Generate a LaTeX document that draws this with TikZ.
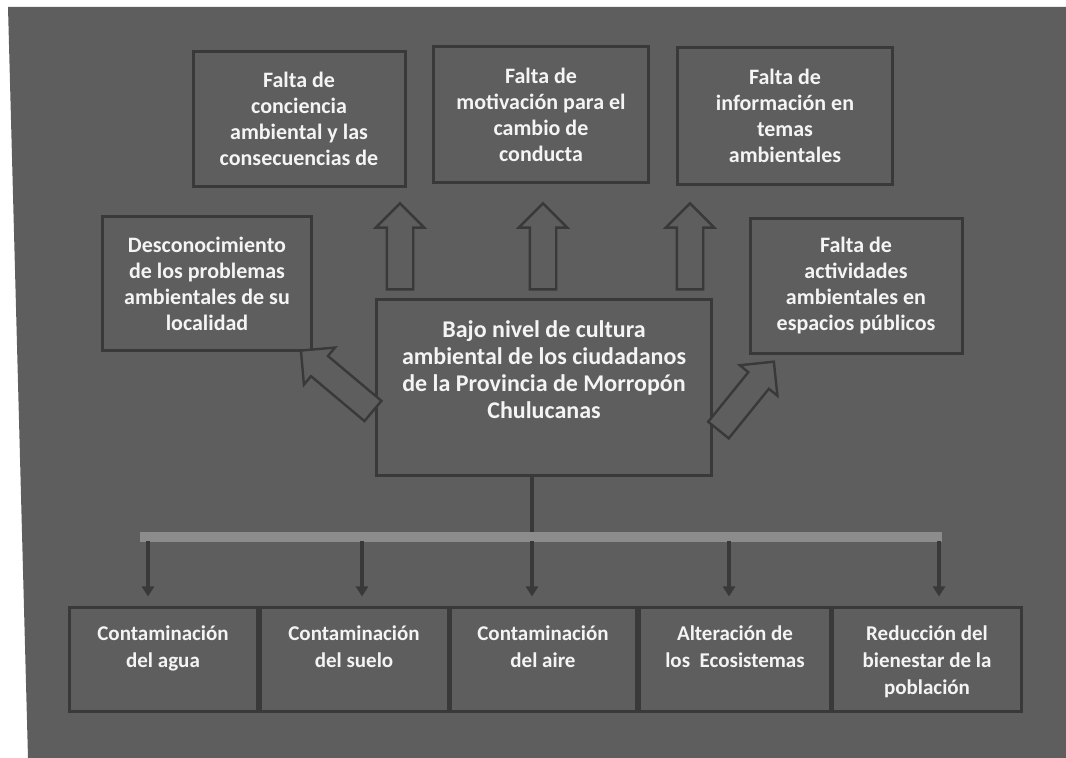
\documentclass[tikz,border=0pt]{standalone}
\usepackage{fontspec}
\setmainfont{Carlito}
\usetikzlibrary{shapes.arrows,arrows.meta}
\definecolor{bg}{HTML}{5E5E5E}
\definecolor{edgec}{HTML}{393939}
\definecolor{barc}{HTML}{8C8C8C}
\definecolor{txt}{HTML}{F4F4F4}
\begin{document}
\begin{tikzpicture}[x=0.5pt,y=-0.5pt,
  box/.style={draw=edgec,line width=1.5pt,fill=bg,text=txt,
    font=\bfseries\fontsize{11}{13}\selectfont,align=center,inner sep=0pt},
  btxt/.style={text=txt,font=\bfseries\fontsize{10.5}{13.5}\selectfont,align=center,inner sep=0pt},
  blockarrow/.style={single arrow,draw=edgec,line width=1.2pt,fill=bg,inner xsep=0pt,inner ysep=6pt,
    minimum width=23pt,single arrow head extend=5.5pt,single arrow head indent=0pt,
    single arrow tip angle=90},
  downarrow/.style={draw=edgec,line width=1.6pt,-{Triangle[width=6pt,length=5pt]},shorten >=5pt}
]
\useasboundingbox (0,0) rectangle (1066,758);
\fill[white] (0,0) rectangle (1066,758);
\fill[bg] (8,7) -- (1066,7) -- (1066,758) -- (28,758) -- cycle;

% top boxes
\node[box,minimum width=106pt,minimum height=67.5pt] (t1) at (299,119)
  {Falta de\\conciencia\\ambiental y las\\consecuencias de};
\node[box,minimum width=107.5pt,minimum height=68pt] (t2) at (541,115)
  {Falta de\\motivación para el\\cambio de\\conducta};
\node[box,minimum width=107.5pt,minimum height=68.5pt] (t3) at (785,116)
  {Falta de\\información en\\temas\\ambientales};
% side boxes
\node[box,minimum width=104.5pt,minimum height=67pt] (L) at (207,284)
  {Desconocimiento\\de los problemas\\ambientales de su\\localidad};
\node[box,minimum width=106pt,minimum height=67.5pt] (R) at (856,286)
  {Falta de\\actividades\\ambientales en\\espacios públicos};
% center box
\node[box,minimum width=167.5pt,minimum height=88pt] (C) at (544,388) {};
\node[btxt,font=\bfseries\fontsize{12}{13.5}\selectfont] (Ct) at ([yshift=9pt]C.center)
  {Bajo nivel de cultura\\ambiental de los ciudadanos\\de la Provincia de Morropón\\Chulucanas};

% block arrows
\node[blockarrow,rotate=90,minimum height=43pt] (a1) at (400,253) {};
\node[blockarrow,rotate=90,minimum height=43pt] (a2) at (543,253) {};
\node[blockarrow,rotate=90,minimum height=43pt] (a3) at (690,253) {};
\node[blockarrow,rotate=140,minimum height=47pt] (a4) at (342,385) {};
\node[blockarrow,rotate=51,minimum height=44pt] (a5) at (742,401) {};

% bottom boxes
\node[box,minimum width=94pt,minimum height=52pt] (b1) at (163,660) {};
\node[box,minimum width=94pt,minimum height=52pt] (b2) at (354,660) {};
\node[box,minimum width=93pt,minimum height=52pt] (b3) at (543,660) {};
\node[box,minimum width=95.5pt,minimum height=52pt] (b4) at (735,660) {};
\node[box,minimum width=94.5pt,minimum height=52pt] (b5) at (927,660) {};
\node[btxt,anchor=north] (b1t) at ([yshift=-9.5pt]b1.north) {Contaminación\\del agua};
\node[btxt,anchor=north] (b2t) at ([yshift=-9.5pt]b2.north) {Contaminación\\del suelo};
\node[btxt,anchor=north] (b3t) at ([yshift=-9.5pt]b3.north) {Contaminación\\del aire};
\node[btxt,anchor=north] (b4t) at ([yshift=-9.5pt]b4.north) {Alteración de\\los\ \ Ecosistemas};
\node[btxt,anchor=north] (b5t) at ([yshift=-9.5pt]b5.north) {Reducción del\\bienestar de la\\población};

% bar and connectors
\coordinate (barL) at (140,537);
\coordinate (barR) at (942,537);
\coordinate (k1) at (148,541);
\coordinate (k2) at (362,541);
\coordinate (k3) at (532,541);
\coordinate (k4) at (729,541);
\coordinate (k5) at (939,541);
\draw[edgec,line width=1.6pt] (C.south -| k3) -- (k3 |- barL);
\draw[barc,line width=5pt] (barL) -- (barR);
\draw[downarrow] (k1) -- (k1 |- b1.north);
\draw[downarrow] (k2) -- (k2 |- b2.north);
\draw[downarrow] (k3) -- (k3 |- b3.north);
\draw[downarrow] (k4) -- (k4 |- b4.north);
\draw[downarrow] (k5) -- (k5 |- b5.north);
\end{tikzpicture}
\end{document}
